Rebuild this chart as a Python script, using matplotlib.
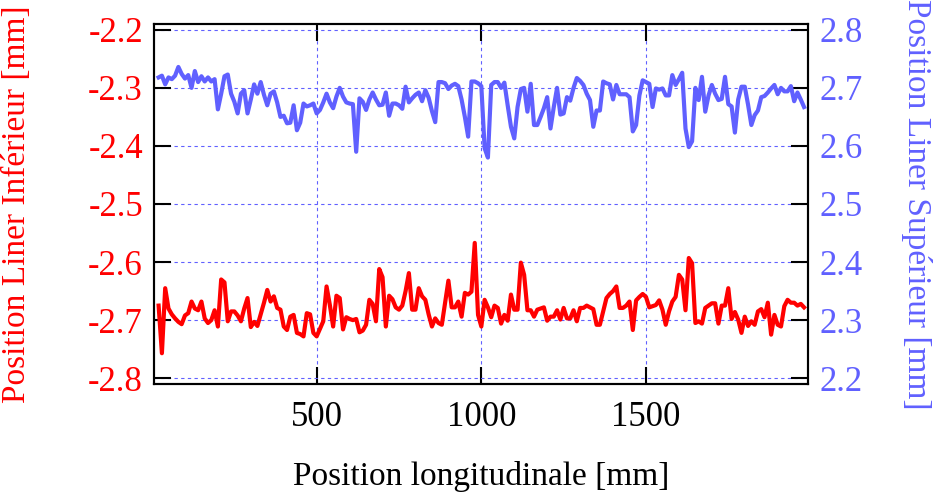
import numpy as np
import matplotlib
matplotlib.use("Agg")
from matplotlib import pyplot as plt

# position along the liner [mm]
x_pos = list(range(20, 1990, 10))

# lower liner position [mm] (left axis)
liner_inf = [
	-2.675, -2.757, -2.645, -2.680, -2.690, -2.697, -2.703, -2.707,
	-2.692, -2.688, -2.668, -2.680, -2.683, -2.668, -2.697, -2.705, -2.700, -2.683,
	-2.711, -2.630, -2.635, -2.702, -2.685, -2.685, -2.692, -2.702, -2.680, -2.662,
	-2.712, -2.703, -2.710, -2.690, -2.670, -2.648, -2.668, -2.659, -2.679, -2.682,
	-2.711, -2.717, -2.694, -2.691, -2.722, -2.724, -2.728, -2.688, -2.690, -2.722,
	-2.728, -2.715, -2.702, -2.642, -2.674, -2.711, -2.658, -2.662, -2.716, -2.695,
	-2.698, -2.700, -2.698, -2.721, -2.718, -2.708, -2.665, -2.672, -2.702, -2.612,
	-2.626, -2.711, -2.658, -2.664, -2.678, -2.682, -2.675, -2.650, -2.619, -2.682,
	-2.682, -2.645, -2.659, -2.665, -2.690, -2.711, -2.697, -2.705, -2.708, -2.670,
	-2.632, -2.678, -2.678, -2.668, -2.694, -2.653, -2.656, -2.651, -2.567, -2.691,
	-2.711, -2.665, -2.678, -2.695, -2.675, -2.679, -2.706, -2.691, -2.701, -2.656,
	-2.682, -2.682, -2.601, -2.622, -2.683, -2.683, -2.694, -2.682, -2.680, -2.678,
	-2.701, -2.694, -2.694, -2.683, -2.699, -2.679, -2.697, -2.697, -2.683, -2.702,
	-2.679, -2.679, -2.675, -2.678, -2.681, -2.708, -2.708, -2.685, -2.662, -2.655,
	-2.650, -2.642, -2.679, -2.679, -2.675, -2.668, -2.717, -2.666, -2.660, -2.655,
	-2.660, -2.678, -2.676, -2.674, -2.666, -2.682, -2.708, -2.685, -2.668, -2.660,
	-2.622, -2.630, -2.683, -2.593, -2.602, -2.705, -2.702, -2.706, -2.679, -2.675,
	-2.671, -2.671, -2.706, -2.675, -2.675, -2.645, -2.698, -2.686, -2.699, -2.722,
	-2.694, -2.710, -2.702, -2.708, -2.685, -2.681, -2.695, -2.670, -2.725, -2.691,
	-2.708, -2.711, -2.676, -2.665, -2.670, -2.670, -2.675, -2.672, -2.678,
]

# upper liner position [mm] (right axis)
liner_sup = [
	2.718, 2.721, 2.706, 2.718, 2.715, 2.721, 2.736, 2.724,
	2.716, 2.722, 2.700, 2.729, 2.710, 2.720, 2.711, 2.718, 2.711, 2.715,
	2.663, 2.690, 2.720, 2.723, 2.690, 2.676, 2.656, 2.690, 2.696, 2.656,
	2.680, 2.706, 2.690, 2.710, 2.688, 2.670, 2.690, 2.694, 2.675, 2.650,
	2.652, 2.639, 2.640, 2.670, 2.627, 2.640, 2.673, 2.668, 2.670, 2.673,
	2.656, 2.662, 2.675, 2.690, 2.675, 2.665, 2.685, 2.700, 2.685, 2.675,
	2.673, 2.672, 2.590, 2.682, 2.676, 2.662, 2.680, 2.692, 2.680, 2.670,
	2.671, 2.692, 2.652, 2.673, 2.673, 2.670, 2.664, 2.702, 2.675, 2.682,
	2.688, 2.692, 2.677, 2.696, 2.683, 2.660, 2.641, 2.710, 2.710, 2.708,
	2.698, 2.704, 2.707, 2.703, 2.680, 2.650, 2.616, 2.711, 2.711, 2.708,
	2.703, 2.596, 2.580, 2.705, 2.710, 2.710, 2.700, 2.709, 2.670, 2.633,
	2.613, 2.667, 2.698, 2.700, 2.659, 2.707, 2.636, 2.636, 2.650, 2.665,
	2.684, 2.630, 2.667, 2.700, 2.654, 2.656, 2.684, 2.678, 2.700, 2.717,
	2.712, 2.705, 2.690, 2.679, 2.633, 2.661, 2.661, 2.711, 2.708, 2.706,
	2.680, 2.705, 2.689, 2.689, 2.689, 2.684, 2.625, 2.636, 2.687, 2.713,
	2.710, 2.707, 2.667, 2.699, 2.697, 2.699, 2.687, 2.687, 2.722, 2.705,
	2.715, 2.726, 2.630, 2.598, 2.608, 2.700, 2.679, 2.719, 2.659, 2.687,
	2.705, 2.690, 2.679, 2.681, 2.719, 2.672, 2.668, 2.623, 2.680, 2.702,
	2.702, 2.671, 2.636, 2.653, 2.661, 2.684, 2.686, 2.692, 2.699, 2.705,
	2.689, 2.700, 2.694, 2.694, 2.703, 2.677, 2.692, 2.680, 2.667,
]

x_ticks = [500, 1000, 1500]
left_ticks = [-2.8, -2.7, -2.6, -2.5, -2.4, -2.3, -2.2]
right_ticks = [2.2, 2.3, 2.4, 2.5, 2.6, 2.7, 2.8]

red = '#ff0000'
blue = '#6060ff'

plt.rcParams['font.family'] = ['Liberation Serif', 'DejaVu Serif']
plt.rcParams['font.size'] = 25

figure = plt.figure(figsize=(9.37, 4.92), dpi=100)
ax = figure.add_axes([154/937, 1 - 384/492, 654/937, 360/492])
ax2 = ax.twinx()

ax.plot(x_pos, liner_inf, color=red, linewidth=3, solid_joinstyle='round')
ax2.plot(x_pos, liner_sup, color=blue, linewidth=3, solid_joinstyle='round')

ax.set_xlim(6, 1992)
ax.set_ylim(-2.81, -2.19)
ax2.set_ylim(2.19, 2.81)

ax.set_xticks(x_ticks)
ax.set_yticks(left_ticks)
ax.set_yticklabels(['%.1f' % v for v in left_ticks])
ax2.set_yticks(right_ticks)
ax2.set_yticklabels(['%.1f' % v for v in right_ticks])

ax.grid(True, color=blue, linestyle=(0, (3, 3)), linewidth=0.8)
ax.set_axisbelow(True)

ax.tick_params(axis='x', direction='in', length=12, width=1.5, top=True, pad=12, colors='black')
ax.tick_params(axis='y', direction='in', length=12, width=1.5, right=False, pad=8, labelcolor=red)
ax2.tick_params(axis='y', direction='in', length=12, width=1.5, pad=8, labelcolor=blue)

for a in (ax, ax2):
	for s in a.spines.values():
		s.set_linewidth(1.5)

ax.set_xlabel("Position longitudinale [mm]", fontsize=24, labelpad=20)
ax.set_ylabel("Position Liner Inférieur [mm]", color=red, fontsize=24, labelpad=40)
ax2.set_ylabel("Position Liner Supérieur [mm]", color=blue, fontsize=24, rotation=-90, labelpad=50)

figure.savefig("out.png", dpi=100)
